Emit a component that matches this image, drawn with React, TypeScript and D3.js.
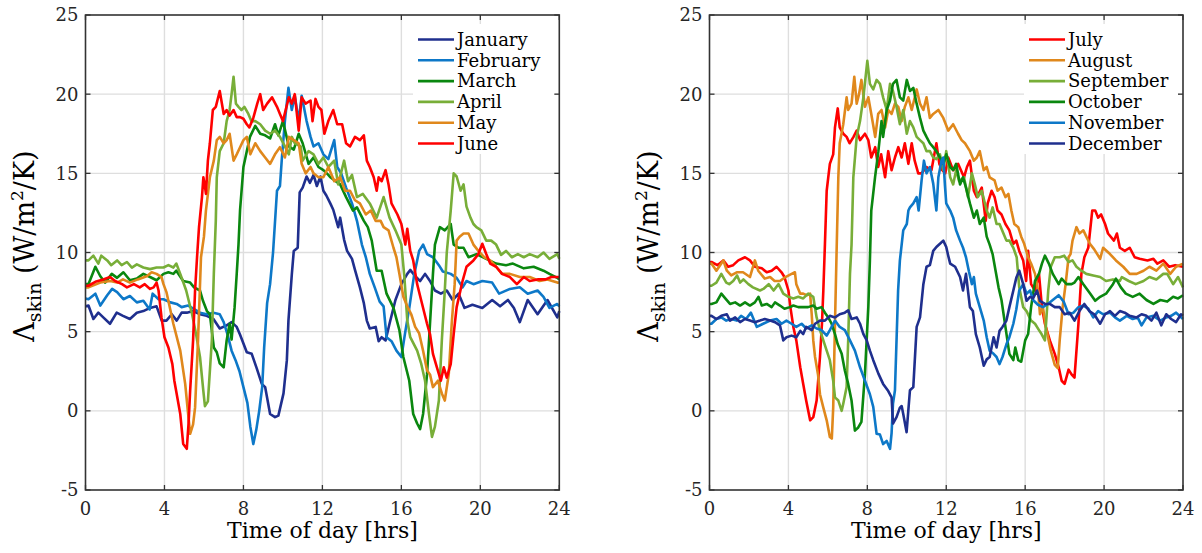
import React, { useEffect } from "react";
import * as d3 from "d3";

type Pt = [number, number];

const xTicks = [0, 4, 8, 12, 16, 20, 24];
const yTicks = [-5, 0, 5, 10, 15, 20, 25];
const xLabel = "Time of day [hrs]";

const leftMonths = ["January", "February", "March", "April", "May", "June"];
const rightMonths = ["July", "August", "September", "October", "November", "December"];
const leftColors = ["#1f2f8e", "#0d78c8", "#0a870f", "#78ae38", "#e0881c", "#ff0000"];
const rightColors = ["#ff0000", "#e0881c", "#78ae38", "#0a870f", "#0d78c8", "#1f2f8e"];

const january: Pt[] = [[0,6.6],[0.15,6.65],[0.4,5.8],[0.65,6.2],[0.9,5.9],[1.24,5.5],[1.58,6.2],[1.9,6.0],[2.25,5.8],[2.6,6.2],[2.93,6.3],[3.27,6.5],[3.6,6.6],[3.86,5.7],[4.1,5.7],[4.37,6.1],[4.62,5.7],[4.87,6.2],[5.13,6.2],[5.46,6.3],[5.8,6.1],[6.14,6.0],[6.48,5.8],[6.8,5.2],[7.15,5.4],[7.4,5.6],[7.66,5.3],[7.83,4.8],[8.17,3.7],[8.42,3.6],[8.67,2.7],[8.93,1.7],[9.1,1.5],[9.35,-0.2],[9.6,-0.4],[9.77,-0.3],[10.03,1.1],[10.2,3.2],[10.28,5.7],[10.45,8.6],[10.55,10.1],[10.75,10.3],[10.85,13.8],[11.0,14.1],[11.2,14.8],[11.37,14.4],[11.55,14.9],[11.72,14.2],[11.9,14.8],[12.05,13.9],[12.2,13.6],[12.4,13.1],[12.55,12.7],[12.8,11.6],[12.9,12.2],[13.1,10.8],[13.25,10.1],[13.5,9.6],[13.65,8.9],[13.9,7.8],[14.1,6.8],[14.25,5.7],[14.4,5.2],[14.7,5.3],[14.85,4.4],[15.0,4.65],[15.2,4.45],[15.4,5.5],[15.7,7.0],[16.0,8.0],[16.3,8.65],[16.45,8.9],[16.7,8.5],[16.95,8.2],[17.2,8.65],[17.45,8.2],[17.7,7.6],[18.0,7.4],[18.3,7.6],[18.6,7.0],[18.9,7.4],[19.2,6.5],[19.6,6.7],[20.1,6.5],[20.6,7.0],[21.0,6.6],[21.4,7.0],[21.7,6.5],[22.0,5.6],[22.4,7.0],[22.9,6.1],[23.4,7.0],[23.9,5.9],[24,6.3]];

const february: Pt[] = [[0,7.1],[0.15,7.05],[0.5,7.4],[0.75,6.65],[1.1,7.3],[1.35,7.7],[1.6,7.5],[1.92,7.05],[2.25,7.25],[2.6,6.85],[2.93,6.95],[3.25,6.4],[3.4,7.4],[3.7,7.05],[3.95,7.05],[4.3,6.85],[4.62,6.75],[4.87,6.55],[5.2,6.65],[5.46,6.45],[5.8,6.2],[6.14,6.1],[6.48,6.2],[6.8,6.1],[7.0,5.6],[7.2,4.8],[7.4,3.8],[7.6,3.2],[7.8,2.5],[8.0,1.5],[8.2,0.5],[8.35,-1.0],[8.5,-2.1],[8.65,-1.2],[8.8,0.0],[8.95,1.5],[9.05,4.0],[9.2,6.8],[9.35,8.0],[9.5,10.0],[9.7,13.9],[9.85,14.2],[9.95,16.0],[10.1,18.3],[10.28,20.4],[10.45,19.0],[10.6,19.9],[10.8,18.3],[10.95,19.9],[11.2,18.3],[11.4,17.3],[11.55,16.7],[11.8,16.9],[12.05,16.2],[12.3,15.9],[12.6,17.1],[12.75,15.4],[12.95,15.0],[13.2,14.1],[13.5,13.1],[13.75,12.0],[14.0,10.5],[14.2,9.7],[14.4,8.65],[14.65,7.8],[14.9,6.9],[15.1,6.6],[15.25,4.65],[15.5,4.4],[15.75,3.8],[16.0,3.4],[16.2,5.0],[16.4,6.5],[16.65,8.6],[16.9,10.1],[17.1,10.5],[17.3,9.9],[17.6,9.7],[17.9,9.2],[18.1,8.8],[18.5,8.65],[18.8,8.4],[19.1,7.8],[19.3,8.2],[19.65,8.0],[20.1,8.2],[20.6,8.1],[20.95,7.4],[21.5,7.7],[22.0,7.8],[22.4,7.4],[22.9,7.6],[23.2,7.2],[23.5,6.5],[23.9,6.75],[24,6.6]];

const march: Pt[] = [[0,8.0],[0.15,8.0],[0.5,9.1],[0.75,8.5],[1.0,8.1],[1.33,8.65],[1.6,8.4],[1.92,8.75],[2.25,8.25],[2.6,8.35],[2.93,8.65],[3.27,8.45],[3.6,8.25],[3.95,8.65],[4.2,8.75],[4.45,8.65],[4.6,8.85],[4.95,8.2],[5.3,8.1],[5.5,7.8],[5.8,7.6],[5.95,6.95],[6.15,6.3],[6.3,6.1],[6.5,4.0],[6.65,3.7],[6.8,3.0],[7.0,2.75],[7.15,4.45],[7.3,5.5],[7.4,4.5],[7.55,6.5],[7.66,8.65],[7.75,10.5],[7.83,12.7],[8.0,15.4],[8.17,16.4],[8.33,17.3],[8.6,18.0],[8.85,17.5],[9.1,17.4],[9.35,17.2],[9.6,18.1],[9.77,17.4],[10.0,18.3],[10.3,16.7],[10.55,16.5],[10.8,17.5],[11.0,16.9],[11.3,15.6],[11.55,16.0],[11.8,15.4],[12.05,15.2],[12.3,14.9],[12.4,14.75],[12.9,14.3],[13.2,13.5],[13.55,12.65],[13.75,12.85],[14.1,12.0],[14.3,11.6],[14.5,10.75],[14.75,8.85],[15.0,8.85],[15.25,7.4],[15.6,6.5],[15.9,5.1],[16.1,3.4],[16.4,1.9],[16.6,-0.2],[16.8,-0.8],[16.95,-1.15],[17.1,-0.2],[17.3,2.3],[17.45,5.5],[17.6,8.65],[17.7,10.5],[17.95,11.6],[18.2,11.4],[18.5,11.8],[18.65,10.5],[18.9,10.3],[19.15,10.3],[19.4,9.7],[19.8,9.9],[20.3,9.6],[20.8,9.3],[21.3,9.2],[21.65,9.3],[22.2,9.0],[22.7,9.1],[23.2,8.85],[23.5,8.65],[23.9,8.4],[24,8.3]];

const april: Pt[] = [[0,9.5],[0.15,9.5],[0.4,9.8],[0.65,9.3],[0.8,9.8],[1.1,9.5],[1.3,9.2],[1.6,9.5],[1.83,9.2],[2.1,9.4],[2.35,9.05],[2.6,9.25],[2.93,9.05],[3.27,8.95],[3.6,9.05],[3.95,9.05],[4.2,9.2],[4.45,9.05],[4.6,9.3],[4.8,8.65],[5.1,7.6],[5.4,6.1],[5.6,4.85],[5.8,3.4],[5.97,1.25],[6.05,0.3],[6.2,0.6],[6.4,4.45],[6.5,8.65],[6.6,12.0],[6.65,14.75],[6.8,16.4],[7.0,16.9],[7.15,18.3],[7.3,19.0],[7.4,20.0],[7.5,21.1],[7.62,19.4],[7.75,19.2],[7.9,19.0],[8.05,19.2],[8.25,18.75],[8.4,18.3],[8.6,18.3],[8.85,18.1],[9.1,17.7],[9.35,17.5],[9.6,17.7],[9.85,17.3],[10.1,16.7],[10.3,16.2],[10.45,17.3],[10.6,16.9],[10.9,16.7],[11.0,15.8],[11.3,16.4],[11.55,16.2],[11.8,15.6],[12.05,16.0],[12.3,15.4],[12.6,15.8],[12.8,14.3],[13.1,15.8],[13.3,14.5],[13.5,14.9],[13.75,13.5],[14.05,13.7],[14.4,13.1],[14.75,12.2],[15.1,13.5],[15.4,12.2],[15.7,11.4],[16.0,10.5],[16.15,8.5],[16.3,5.7],[16.45,4.65],[16.8,3.8],[17.0,3.0],[17.2,1.9],[17.4,-0.2],[17.55,-1.65],[17.7,-1.0],[17.9,0.65],[18.05,4.45],[18.2,7.6],[18.3,10.0],[18.5,12.65],[18.65,15.0],[18.8,14.8],[19.0,13.9],[19.15,14.3],[19.3,12.9],[19.5,12.2],[19.65,11.8],[19.8,11.6],[20.05,11.4],[20.3,10.75],[20.55,10.75],[20.8,10.5],[21.05,9.85],[21.3,10.1],[21.6,9.7],[21.9,9.9],[22.2,9.7],[22.5,9.9],[22.9,9.7],[23.2,10.0],[23.5,9.6],[23.9,9.9],[24,9.6]];

const may: Pt[] = [[0,7.8],[0.15,7.8],[0.75,8.1],[1.25,8.2],[1.6,8.1],[1.9,8.3],[2.25,8.1],[2.65,8.3],[3.1,8.5],[3.35,8.75],[3.6,8.65],[3.85,8.45],[3.95,8.0],[4.1,7.5],[4.45,5.5],[4.8,3.8],[5.05,1.7],[5.2,-0.2],[5.3,-1.45],[5.45,-0.85],[5.55,0.2],[5.7,4.45],[5.85,9.7],[6.0,11.0],[6.1,12.65],[6.3,14.75],[6.5,15.8],[6.65,17.1],[6.8,17.3],[7.0,16.9],[7.15,17.1],[7.3,17.5],[7.5,15.8],[7.66,16.2],[7.83,16.65],[8.0,17.1],[8.17,17.3],[8.35,16.2],[8.6,16.9],[8.85,16.4],[9.1,16.0],[9.35,15.6],[9.6,16.2],[9.85,16.65],[10.1,16.0],[10.3,17.3],[10.55,17.1],[10.8,16.9],[10.95,15.6],[11.15,15.0],[11.4,15.4],[11.55,15.0],[11.8,14.75],[12.05,14.75],[12.3,15.4],[12.6,14.5],[12.9,14.75],[13.15,13.9],[13.4,13.9],[13.65,13.3],[13.9,13.1],[14.2,12.4],[14.45,12.65],[14.7,12.0],[14.95,12.0],[15.1,11.6],[15.35,11.4],[15.6,10.3],[15.75,9.7],[15.9,8.65],[16.1,7.2],[16.3,6.6],[16.5,6.1],[16.7,5.3],[16.9,4.9],[17.1,3.8],[17.3,2.55],[17.45,2.3],[17.6,1.5],[17.85,1.9],[18.05,1.1],[18.2,0.65],[18.4,2.3],[18.55,5.5],[18.7,8.0],[18.8,10.75],[18.95,11.0],[19.15,11.2],[19.4,11.2],[19.65,10.5],[19.9,10.1],[20.2,9.7],[20.5,9.5],[20.8,9.1],[21.1,8.65],[21.5,8.65],[22.0,8.45],[22.5,8.45],[23.0,8.2],[23.4,8.3],[23.9,8.1],[24,8.1]];

const june: Pt[] = [[0,7.9],[0.15,7.9],[0.5,8.15],[0.9,8.3],[1.24,8.45],[1.5,8.2],[1.85,8.0],[2.1,7.8],[2.45,8.0],[2.75,7.8],[3.0,8.0],[3.27,7.7],[3.45,7.8],[3.6,8.1],[3.7,7.6],[3.85,5.9],[4.0,4.65],[4.2,4.0],[4.4,2.95],[4.5,1.9],[4.8,-0.2],[4.95,-2.1],[5.13,-2.4],[5.22,-0.8],[5.3,1.25],[5.45,4.45],[5.55,7.6],[5.65,9.7],[5.75,11.6],[5.9,13.5],[5.97,14.75],[6.05,14.2],[6.1,13.7],[6.2,15.8],[6.3,16.9],[6.45,19.0],[6.6,19.2],[6.8,20.2],[7.0,18.75],[7.15,19.0],[7.3,18.65],[7.5,19.0],[7.66,18.55],[7.83,18.55],[8.0,18.45],[8.17,18.1],[8.3,17.9],[8.5,18.5],[8.7,19.4],[8.85,20.0],[9.0,19.0],[9.2,19.4],[9.45,19.8],[9.7,19.2],[9.85,18.75],[10.0,18.3],[10.3,19.8],[10.45,19.4],[10.6,20.0],[10.8,17.7],[10.95,19.8],[11.15,19.4],[11.4,19.6],[11.5,18.3],[11.65,19.7],[11.8,19.2],[11.95,19.0],[12.1,17.5],[12.3,18.3],[12.55,19.0],[12.75,18.1],[13.0,18.1],[13.2,16.9],[13.4,16.7],[13.65,17.3],[13.9,17.1],[14.1,17.4],[14.25,15.8],[14.4,15.4],[14.6,14.75],[14.75,13.9],[14.85,14.75],[15.0,14.5],[15.2,15.2],[15.35,14.3],[15.5,13.1],[15.8,12.4],[16.0,11.8],[16.2,10.5],[16.3,11.5],[16.45,10.1],[16.6,9.5],[16.8,8.0],[17.0,7.0],[17.3,5.5],[17.45,4.85],[17.6,3.6],[17.8,2.75],[18.0,1.9],[18.15,2.75],[18.3,2.1],[18.5,2.95],[18.65,4.85],[18.8,6.55],[19.1,8.2],[19.3,9.1],[19.65,9.5],[19.9,9.9],[20.1,10.55],[20.3,9.9],[20.5,9.3],[20.8,9.1],[21.1,8.65],[21.5,8.45],[21.85,8.0],[22.2,8.45],[22.5,8.2],[22.9,8.3],[23.3,8.3],[23.6,8.45],[24,8.45]];

const july: Pt[] = [[0,9.4],[0.1,9.4],[0.4,9.2],[0.7,9.5],[0.95,9.1],[1.2,9.2],[1.46,9.5],[1.8,9.7],[2.05,9.5],[2.3,9.1],[2.65,9.0],[2.9,8.75],[3.15,8.85],[3.4,9.1],[3.65,8.75],[3.8,8.45],[4.0,7.6],[4.1,6.55],[4.25,5.3],[4.4,4.45],[4.6,2.75],[4.75,1.7],[4.9,0.65],[5.1,-0.6],[5.26,-0.4],[5.43,0.65],[5.6,3.4],[5.7,5.5],[5.77,7.6],[5.85,10.5],[5.94,13.9],[6.1,15.6],[6.27,16.2],[6.36,17.9],[6.5,19.1],[6.6,17.9],[6.78,17.5],[6.95,17.3],[7.1,16.9],[7.3,17.3],[7.46,17.7],[7.63,17.1],[7.88,17.5],[8.05,17.1],[8.2,16.0],[8.4,16.65],[8.55,15.4],[8.7,16.2],[8.9,14.75],[9.06,16.4],[9.23,15.2],[9.4,16.0],[9.57,16.65],[9.74,16.0],[9.9,16.9],[10.08,15.6],[10.25,16.9],[10.4,15.8],[10.58,15.0],[10.75,15.0],[11.0,15.4],[11.25,15.2],[11.5,16.9],[11.65,15.6],[11.8,15.2],[11.95,15.0],[12.1,16.0],[12.35,15.2],[12.6,15.6],[12.9,14.75],[13.05,15.4],[13.2,15.8],[13.4,13.9],[13.55,13.5],[13.8,14.1],[14.0,12.0],[14.1,13.1],[14.3,13.9],[14.45,13.5],[14.6,12.65],[14.8,12.4],[15.0,11.8],[15.2,11.4],[15.4,10.55],[15.55,10.75],[15.7,10.1],[15.9,9.5],[16.05,8.2],[16.15,10.1],[16.3,8.0],[16.5,7.6],[16.7,8.65],[16.85,6.55],[17.0,5.5],[17.25,4.45],[17.5,3.6],[17.7,2.75],[17.85,1.9],[18.0,1.7],[18.2,2.6],[18.35,2.3],[18.5,2.1],[18.7,5.5],[18.85,8.65],[19.0,9.7],[19.2,10.3],[19.4,12.65],[19.55,12.65],[19.7,12.2],[19.85,12.4],[20.05,11.8],[20.2,11.2],[20.5,10.75],[20.65,11.2],[20.8,10.3],[21.05,10.1],[21.3,10.3],[21.55,9.7],[21.8,9.6],[22.2,9.5],[22.5,9.6],[22.7,9.3],[23.0,9.5],[23.3,9.1],[23.6,9.2],[24,9.1]];

const august: Pt[] = [[0,9.3],[0.1,9.3],[0.35,8.85],[0.7,9.5],[0.88,8.85],[1.1,8.55],[1.38,8.75],[1.7,8.75],[2.05,8.45],[2.3,9.5],[2.47,8.85],[2.8,8.35],[3.07,8.45],[3.3,8.2],[3.57,8.2],[3.85,8.45],[4.16,8.65],[4.33,8.75],[4.4,8.0],[4.6,7.4],[4.75,7.4],[4.93,7.3],[5.1,7.4],[5.18,6.1],[5.26,4.45],[5.35,3.4],[5.5,2.3],[5.6,1.05],[5.77,0.2],[5.94,-0.6],[6.1,-1.65],[6.2,-1.75],[6.27,0.2],[6.36,5.5],[6.45,10.5],[6.53,14.75],[6.6,16.9],[6.78,18.1],[6.95,19.8],[7.03,19.0],[7.2,19.4],[7.34,21.1],[7.46,19.4],[7.58,20.0],[7.7,20.9],[7.88,19.2],[8.05,19.8],[8.2,18.75],[8.4,17.3],[8.55,18.75],[8.72,19.0],[8.9,17.9],[9.06,19.0],[9.23,18.75],[9.4,19.4],[9.57,19.2],[9.74,18.3],[9.9,19.2],[10.08,19.8],[10.25,19.0],[10.5,20.3],[10.67,19.4],[10.84,19.0],[11.0,19.8],[11.17,18.5],[11.34,18.75],[11.6,19.0],[11.85,18.5],[12.1,17.7],[12.35,18.1],[12.6,17.5],[12.78,17.1],[12.95,16.9],[13.2,16.4],[13.4,15.8],[13.55,16.0],[13.7,16.4],[13.9,15.2],[14.05,15.4],[14.2,14.75],[14.45,14.55],[14.6,13.9],[14.8,14.1],[15.0,13.5],[15.15,13.7],[15.3,12.65],[15.45,11.8],[15.65,11.6],[15.8,11.0],[15.95,10.55],[16.15,9.7],[16.3,9.3],[16.5,8.65],[16.65,7.6],[16.75,6.1],[16.9,6.55],[17.05,5.3],[17.3,3.8],[17.5,2.9],[17.65,2.7],[17.75,4.45],[17.9,6.55],[18.05,8.0],[18.2,9.7],[18.3,9.9],[18.4,10.75],[18.6,11.6],[18.75,11.2],[18.95,11.4],[19.1,11.0],[19.28,10.55],[19.5,10.2],[19.8,9.6],[19.95,10.3],[20.3,9.9],[20.6,9.5],[20.97,9.1],[21.3,8.65],[21.65,8.65],[22.0,8.85],[22.3,9.1],[22.65,8.85],[23.0,9.3],[23.35,8.65],[23.65,9.1],[24,9.3]];

const september: Pt[] = [[0,7.9],[0.1,7.9],[0.35,8.1],[0.6,8.65],[0.85,8.1],[1.0,8.0],[1.2,8.2],[1.4,8.55],[1.55,8.1],[1.72,8.3],[1.97,8.0],[2.2,7.8],[2.56,7.6],[2.73,7.7],[3.0,8.0],[3.25,7.6],[3.5,8.0],[3.74,7.4],[4.0,7.2],[4.25,7.1],[4.5,7.2],[4.75,7.1],[5.0,7.4],[5.26,7.2],[5.43,5.9],[5.6,5.1],[5.77,4.45],[5.94,3.8],[6.1,3.2],[6.27,1.9],[6.36,0.85],[6.53,0.65],[6.7,0.0],[6.78,0.45],[6.95,1.5],[7.03,4.45],[7.12,8.65],[7.2,10.5],[7.29,14.75],[7.46,17.3],[7.63,18.3],[7.8,19.8],[8.0,22.1],[8.13,20.65],[8.3,20.3],[8.47,20.9],[8.64,20.65],[8.8,19.8],[8.98,19.0],[9.15,20.65],[9.3,20.2],[9.48,19.2],[9.65,18.1],[9.82,19.0],[10.0,17.5],[10.16,18.3],[10.33,17.9],[10.5,17.3],[10.67,17.1],[10.84,16.9],[11.0,16.4],[11.17,16.4],[11.34,16.0],[11.5,15.9],[11.68,16.2],[11.85,15.2],[12.0,16.4],[12.2,14.75],[12.35,14.3],[12.5,15.2],[12.65,14.5],[12.9,14.75],[13.1,13.5],[13.3,15.0],[13.45,14.3],[13.6,13.5],[13.8,13.9],[14.05,12.65],[14.2,12.2],[14.35,12.85],[14.55,11.8],[14.7,11.8],[14.9,11.2],[15.05,10.75],[15.2,10.75],[15.4,10.3],[15.57,9.7],[15.7,7.8],[15.9,6.55],[16.07,6.3],[16.3,5.7],[16.5,5.5],[16.7,5.1],[16.83,4.85],[17.0,4.45],[17.08,5.9],[17.17,7.6],[17.3,9.1],[17.5,9.7],[17.75,9.7],[17.98,9.8],[18.2,9.4],[18.4,9.5],[18.6,9.1],[18.85,8.85],[19.1,8.65],[19.45,8.55],[19.8,8.45],[20.1,8.2],[20.45,8.3],[20.8,8.2],[20.9,8.45],[21.25,8.2],[21.6,8.0],[22.0,8.2],[22.3,8.45],[22.65,8.3],[23.0,8.65],[23.2,8.65],[23.5,8.0],[23.75,8.45],[24,7.8]];

const october: Pt[] = [[0,6.75],[0.1,6.75],[0.35,6.85],[0.6,7.4],[0.8,7.1],[1.04,6.75],[1.3,6.85],[1.55,6.65],[1.8,6.85],[2.05,6.65],[2.3,6.85],[2.48,7.2],[2.65,6.65],[2.9,6.75],[3.15,6.55],[3.32,6.85],[3.57,6.65],[3.8,6.45],[4.08,6.55],[4.25,6.65],[4.5,6.55],[4.75,6.55],[5.0,6.55],[5.26,6.65],[5.43,6.45],[5.68,6.55],[5.85,6.2],[6.02,5.9],[6.19,5.5],[6.36,4.85],[6.5,4.2],[6.7,3.6],[6.86,2.55],[7.03,1.7],[7.2,0.65],[7.37,-1.25],[7.54,-1.05],[7.7,-0.7],[7.88,2.35],[8.05,6.55],[8.13,9.5],[8.2,12.65],[8.39,14.75],[8.56,16.4],[8.72,18.3],[8.8,17.3],[8.98,19.0],[9.15,19.6],[9.3,20.65],[9.48,20.9],[9.65,19.8],[9.82,19.6],[10.0,20.9],[10.16,20.2],[10.33,20.4],[10.5,19.4],[10.67,18.5],[10.84,17.7],[11.0,17.3],[11.17,16.9],[11.34,16.65],[11.5,16.4],[11.68,16.0],[11.85,15.6],[12.0,16.2],[12.2,15.4],[12.35,15.2],[12.5,15.6],[12.7,14.3],[12.85,14.75],[13.0,14.1],[13.2,13.1],[13.4,12.2],[13.55,12.65],[13.7,11.8],[13.9,12.2],[14.05,11.0],[14.2,10.5],[14.35,9.9],[14.5,8.85],[14.65,7.8],[14.8,7.0],[15.0,5.3],[15.1,4.45],[15.2,3.6],[15.4,3.2],[15.5,4.0],[15.65,3.2],[15.8,3.1],[16.0,4.45],[16.15,4.85],[16.3,6.55],[16.5,8.2],[16.7,8.65],[16.85,9.3],[17.0,9.8],[17.2,9.3],[17.4,8.65],[17.7,8.0],[17.85,8.35],[18.1,8.0],[18.35,8.0],[18.5,8.1],[18.7,8.45],[18.95,8.0],[19.3,7.4],[19.55,6.95],[19.8,7.2],[20.1,7.4],[20.45,8.0],[20.6,8.35],[20.85,7.8],[21.1,7.4],[21.45,7.2],[21.8,7.4],[22.15,7.0],[22.5,6.75],[22.85,7.0],[23.2,6.9],[23.5,7.2],[23.75,7.1],[24,7.3]];

const november: Pt[] = [[0,5.5],[0.1,5.5],[0.35,5.8],[0.6,5.9],[0.85,5.7],[1.1,5.8],[1.38,5.7],[1.6,6.0],[1.85,5.8],[2.1,6.2],[2.4,5.3],[2.72,5.5],[3.07,5.7],[3.4,5.8],[3.65,5.5],[3.9,5.7],[4.16,5.5],[4.4,5.3],[4.67,5.5],[4.9,5.2],[5.18,5.4],[5.43,5.2],[5.68,5.1],[5.94,4.75],[6.1,5.1],[6.36,5.7],[6.6,5.3],[6.86,5.1],[7.12,4.45],[7.37,3.8],[7.63,2.75],[7.88,1.9],[8.13,1.05],[8.3,0.25],[8.47,-1.45],[8.64,-1.5],[8.8,-2.1],[8.98,-1.9],[9.15,-2.4],[9.23,-1.4],[9.3,0.45],[9.4,1.3],[9.48,4.45],[9.56,7.6],[9.65,9.5],[9.74,10.5],[9.82,11.4],[10.0,11.8],[10.08,12.65],[10.16,12.85],[10.33,13.1],[10.5,13.5],[10.6,12.65],[10.75,14.55],[10.87,15.8],[11.0,15.0],[11.17,15.4],[11.34,14.35],[11.5,12.65],[11.6,14.75],[11.76,15.8],[11.85,16.0],[11.93,14.3],[12.0,13.1],[12.2,12.65],[12.35,12.2],[12.5,11.4],[12.7,10.75],[12.85,10.3],[13.0,9.7],[13.15,8.8],[13.3,8.0],[13.4,8.45],[13.5,7.4],[13.7,6.55],[13.9,5.7],[14.05,4.65],[14.2,3.8],[14.4,3.6],[14.55,3.4],[14.7,2.95],[14.85,3.4],[15.05,4.2],[15.2,4.65],[15.4,5.5],[15.55,6.4],[15.7,7.6],[15.9,8.0],[16.07,7.4],[16.25,7.6],[16.4,7.0],[16.65,6.7],[16.9,6.55],[17.15,6.75],[17.4,7.0],[17.7,7.3],[17.95,6.9],[18.2,6.1],[18.45,6.2],[18.7,6.55],[18.95,6.65],[19.2,6.45],[19.45,5.9],[19.7,6.3],[19.95,6.1],[20.3,6.2],[20.55,5.9],[20.8,5.7],[21.15,6.0],[21.45,5.8],[21.7,5.9],[21.9,5.4],[22.15,5.9],[22.5,6.0],[22.85,5.7],[23.15,5.9],[23.4,6.0],[23.65,6.2],[24,5.8]];

const december: Pt[] = [[0,6.0],[0.1,6.0],[0.35,5.8],[0.6,6.0],[0.88,6.1],[1.04,5.7],[1.3,5.9],[1.55,5.6],[1.8,5.8],[2.05,5.7],[2.3,5.6],[2.56,5.7],[2.8,5.8],[3.07,5.7],[3.32,5.6],[3.57,5.4],[3.74,4.45],[3.9,4.65],[4.16,4.75],[4.4,4.65],[4.6,5.05],[4.75,4.85],[4.9,5.3],[5.18,5.1],[5.35,5.5],[5.6,5.7],[5.85,5.7],[6.1,6.0],[6.36,5.9],[6.6,6.1],[6.86,6.2],[7.03,6.35],[7.2,5.8],[7.46,5.9],[7.63,5.5],[7.8,4.85],[7.97,4.45],[8.13,3.8],[8.3,3.2],[8.56,2.35],[8.8,1.7],[9.06,1.25],[9.23,0.85],[9.3,-0.8],[9.48,-0.4],[9.65,0.2],[9.74,0.3],[9.82,-0.2],[9.99,-1.35],[10.16,1.3],[10.33,1.5],[10.5,5.3],[10.67,5.9],[10.84,8.0],[11.0,9.1],[11.17,9.2],[11.34,10.1],[11.5,10.35],[11.68,10.55],[11.85,10.75],[12.0,10.35],[12.1,9.8],[12.2,9.3],[12.45,9.1],[12.7,8.45],[12.85,7.6],[13.0,8.65],[13.2,6.55],[13.35,6.3],[13.5,4.85],[13.7,4.0],[13.9,2.85],[14.05,3.25],[14.2,3.4],[14.4,4.65],[14.55,4.0],[14.7,5.05],[14.85,5.3],[15.05,5.7],[15.2,6.55],[15.4,7.6],[15.55,8.4],[15.7,8.85],[15.9,8.0],[16.07,6.95],[16.25,7.2],[16.4,7.1],[16.6,7.6],[16.75,6.95],[17.0,6.75],[17.25,6.75],[17.5,6.55],[17.75,6.55],[18.0,6.1],[18.25,6.2],[18.5,5.7],[18.75,6.3],[19.0,6.75],[19.25,6.3],[19.5,6.1],[19.8,5.5],[20.05,6.1],[20.3,6.3],[20.55,6.0],[20.8,6.3],[21.05,6.2],[21.3,6.0],[21.65,5.9],[21.9,6.1],[22.15,6.0],[22.4,5.7],[22.65,6.2],[22.9,5.4],[23.15,6.1],[23.4,5.8],[23.65,5.6],[23.9,6.1],[24,6.0]];

const leftSeries = [january, february, march, april, may, june];
const rightSeries = [july, august, september, october, november, december];

const FONT = "'DejaVu Serif', serif";
const TOP = 15;
const BOTTOM = 490;

function Panel({ x0, x1, series, names, colors, legendX, legendW }: {
  x0: number; x1: number; series: Pt[][]; names: string[]; colors: string[]; legendX: number; legendW: number;
}) {
  const x = d3.scaleLinear().domain([0, 24]).range([x0, x1]);
  const y = d3.scaleLinear().domain([-5, 25]).range([BOTTOM, TOP]);
  const line = d3.line<Pt>().x((d) => x(d[0])).y((d) => y(d[1]));
  const gridColor = "#dedede";
  const axisColor = "#333333";
  const tickLen = 5;
  const rowH = 20.8;
  const row0 = 39.5;
  return (
    <g>
      {xTicks.slice(1, -1).map((t) => (
        <line key={"gx" + t} x1={x(t)} x2={x(t)} y1={TOP} y2={BOTTOM} stroke={gridColor} strokeWidth={1.4} />
      ))}
      {yTicks.slice(1, -1).map((t) => (
        <line key={"gy" + t} x1={x0} x2={x1} y1={y(t)} y2={y(t)} stroke={gridColor} strokeWidth={1.4} />
      ))}
      {series.map((s, i) => (
        <path key={"s" + i} d={line(s) || ""} fill="none" stroke={colors[i]} strokeWidth={2.6} strokeLinejoin="round" />
      ))}
      <rect x={legendX} y={24} width={legendW} height={130} fill="white" />
      {names.map((n, i) => (
        <g key={"l" + i}>
          <line x1={legendX + 5} x2={legendX + 41} y1={row0 + i * rowH} y2={row0 + i * rowH} stroke={colors[i]} strokeWidth={2.6} />
          <text x={legendX + 44} y={row0 + i * rowH} dy="0.35em" fontFamily={FONT} fontSize={18} fill="#000">{n}</text>
        </g>
      ))}
      <rect x={x0} y={TOP} width={x1 - x0} height={BOTTOM - TOP} fill="none" stroke={axisColor} strokeWidth={1.6} />
      {xTicks.map((t) => (
        <g key={"tx" + t}>
          <line x1={x(t)} x2={x(t)} y1={BOTTOM} y2={BOTTOM - tickLen} stroke={axisColor} strokeWidth={1.3} />
          <line x1={x(t)} x2={x(t)} y1={TOP} y2={TOP + tickLen} stroke={axisColor} strokeWidth={1.3} />
          <text x={x(t)} y={515} textAnchor="middle" fontFamily={FONT} fontSize={18} fill="#262626">{t}</text>
        </g>
      ))}
      {yTicks.map((t) => (
        <g key={"ty" + t}>
          <line x1={x0} x2={x0 + tickLen} y1={y(t)} y2={y(t)} stroke={axisColor} strokeWidth={1.3} />
          <line x1={x1} x2={x1 - tickLen} y1={y(t)} y2={y(t)} stroke={axisColor} strokeWidth={1.3} />
          <text x={x0 - 7} y={y(t)} dy="0.36em" textAnchor="end" fontFamily={FONT} fontSize={18} fill="#262626">{t}</text>
        </g>
      ))}
      <text x={(x0 + x1) / 2} y={538} textAnchor="middle" fontFamily={FONT} fontSize={22} fill="#000">{xLabel}</text>
      <text transform={`translate(${x0 - 52},246) rotate(-90)`} textAnchor="middle" fontFamily={FONT} fontSize={27} fill="#000">
        <tspan>Λ</tspan>
        <tspan dy={7} fontSize={19}>skin</tspan>
        <tspan dy={-7}> (W/m</tspan>
        <tspan dy={-11} fontSize={17}>2</tspan>
        <tspan dy={11}>/K)</tspan>
      </text>
    </g>
  );
}

export default function App() {
  useEffect(() => {
    document.body.style.margin = "0";
  }, []);
  return (
    <svg width={1202} height={553} style={{ position: "absolute", left: 0, top: 0, background: "#fff" }}>
      <rect x={0} y={0} width={1202} height={553} fill="#fff" />
      <Panel x0={85.5} x1={559.3} series={leftSeries} names={leftMonths} colors={leftColors} legendX={413} legendW={142} />
      <Panel x0={709.5} x1={1183} series={rightSeries} names={rightMonths} colors={rightColors} legendX={1024} legendW={154} />
    </svg>
  );
}
